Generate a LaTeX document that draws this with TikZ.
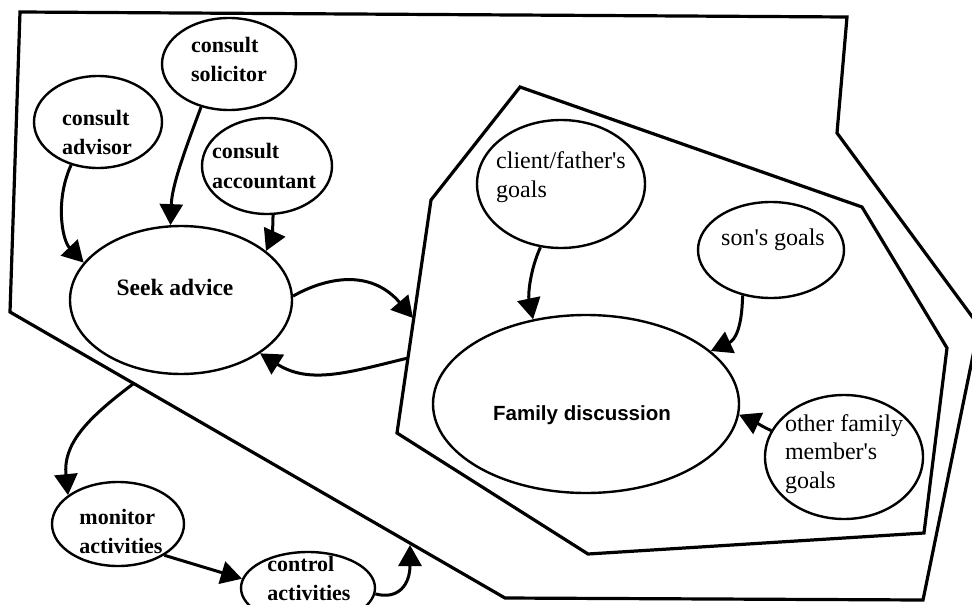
\documentclass[tikz,border=0pt]{standalone}
\usepackage{fontspec}
\setmainfont{Liberation Serif}
\newfontfamily\sansfam{Liberation Sans}
\usetikzlibrary{shapes.geometric,arrows.meta}
\begin{document}
\begin{tikzpicture}[x=1pt,y=-1pt,
  bub/.style={draw, ellipse, line width=2.4pt, inner sep=0pt},
  boldlab/.style={align=left, inner sep=0pt, font=\fontsize{22}{29}\selectfont\bfseries},
  goallab/.style={align=left, inner sep=0pt, font=\fontsize{24}{28.5}\selectfont},
  famlab/.style={inner sep=0pt, font=\sansfam\bfseries\fontsize{20.5}{24}\selectfont},
  conn/.style={line width=3pt, -{Triangle[length=21pt,width=23pt]}},
  hull/.style={line width=3.2pt, line join=miter}]
\useasboundingbox (0,0) rectangle (972,605);
\clip (0,0) rectangle (972,605);

% group boundaries
\draw[hull] (20,12) -- (847,17) -- (837,133) -- (979,326) -- (923,600) -- (505,598) -- (10,312) -- cycle;
\draw[hull] (520,87) -- (862,207) -- (947,348) -- (924,533) -- (588,554) -- (397,433) -- (431,200) -- cycle;

% nodes
\node[bub, minimum width=128pt, minimum height=92pt,
  label={[boldlab, xshift=-1pt, yshift=-10pt]center:{consult\\advisor}}] (advisor) at (98,122) {};
\node[bub, minimum width=134pt, minimum height=92pt,
  label={[boldlab, yshift=5pt]center:{consult\\solicitor}}] (solicitor) at (229,64) {};
\node[bub, minimum width=130pt, minimum height=96pt,
  label={[boldlab, xshift=-3pt]center:{consult\\accountant}}] (accountant) at (267,166) {};
\node[bub, minimum width=222pt, minimum height=148pt,
  label={[boldlab, font=\fontsize{23.5}{27}\selectfont\bfseries, xshift=-6pt, yshift=13pt]center:{Seek advice}}] (seek) at (181,300) {};
\node[bub, minimum width=168pt, minimum height=128pt,
  label={[goallab, yshift=7pt]center:{client/father\textquotesingle s\\goals}}] (client) at (561,184) {};
\node[bub, minimum width=146pt, minimum height=96pt,
  label={[goallab, xshift=2pt, yshift=10pt]center:{son\textquotesingle s goals}}] (son) at (771,250) {};
\node[bub, minimum width=306pt, minimum height=178pt,
  label={[famlab, xshift=-4pt, yshift=-11pt]center:{Family discussion}}] (family) at (586,404) {};
\node[bub, minimum width=158pt, minimum height=124pt,
  label={[goallab, yshift=3pt]center:{other family\\member\textquotesingle s\\goals}}] (other) at (844,457) {};
\node[bub, minimum width=132pt, minimum height=84pt,
  label={[boldlab, xshift=3pt, yshift=-7pt]center:{monitor\\activities}}] (monitor) at (118,524) {};
\node[bub, minimum width=134pt, minimum height=72pt,
  label={[boldlab, xshift=1pt, yshift=10pt]center:{control\\activities}}] (control) at (308,588) {};

% free ends on the group boundaries
\coordinate (inA) at (413,318);
\coordinate (inB) at (408,358);
\coordinate (outA) at (133,384);
\coordinate (outB) at (410,545);

% connectors
\draw[conn] (advisor.238) .. controls (55,200) and (62,240) .. (seek.159);
\draw[conn] (solicitor.237) .. controls (185,150) and (172,185) .. (seek.98);
\draw[conn] (accountant.277) .. controls (273,232) and (271,240) .. (seek.30);
\draw[conn] (seek.2) .. controls (325,278) and (370,268) .. (inA);
\draw[conn] (inB) .. controls (350,372) and (310,385) .. (seek.-34);
\draw[conn] (client.252) .. controls (530,270) and (528,295) .. (family.122);
\draw[conn] (son.238) .. controls (742,328) and (735,340) .. (family.23);
\draw[conn] (other.160) .. controls (765,428) and (755,422) .. (family.-4);
\draw[conn] (outA) .. controls (85,420) and (63,445) .. (monitor.150);
\draw[conn] (monitor.-34) -- (control.172);
\draw[conn] (control.-5) .. controls (398,600) and (410,585) .. (outB);
\end{tikzpicture}
\end{document}
